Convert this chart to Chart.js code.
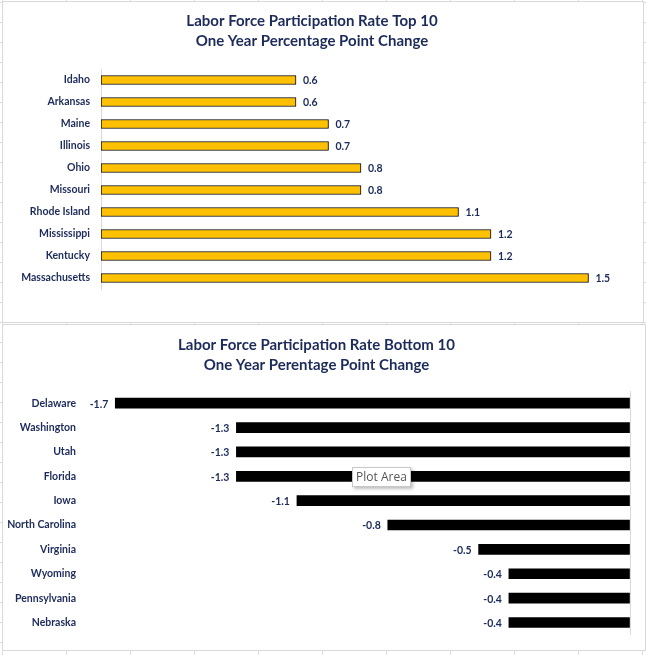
<!DOCTYPE html>
<html>
<head>
<meta charset="utf-8">
<script src="https://cdn.jsdelivr.net/npm/chart.js@4"></script>
<style>
  body {
    margin: 0;
    width: 646px;
    height: 655px;
    position: relative;
    overflow: hidden;
    background-color: #fff;
    background-image:
      linear-gradient(to right, #dcdcdc 1px, transparent 1px),
      linear-gradient(to bottom, #dcdcdc 1px, transparent 1px);
    background-size: 64px 20px;
    background-position: 2px 2px;
  }
  .panel {
    position: absolute;
    background: #fff;
    border: 1px solid #d9d9d9;
  }
  #topPanel { left: 2px; top: 1px; width: 640px; height: 320px; }
  #bottomPanel { left: 2px; top: 324px; width: 642px; height: 325px; }
  canvas { display: block; }
  .hint {
    position: absolute;
    left: 352px;
    top: 467px;
    width: 57px;
    height: 18px;
    background: #fff;
    border: 1px solid #c8c8c8;
    box-shadow: 2px 2px 3px rgba(0,0,0,0.25);
    font: 12px "Open Sans", sans-serif;
    color: #555;
    line-height: 18px;
    text-align: center;
  }
</style>
</head>
<body>
<div class="panel" id="topPanel"><canvas id="topChart" width="640" height="320"></canvas></div>
<div class="panel" id="bottomPanel"><canvas id="bottomChart" width="642" height="325"></canvas></div>
<div class="hint">Plot Area</div>
<script>
// data
const topStates = ['Idaho', 'Arkansas', 'Maine', 'Illinois', 'Ohio', 'Missouri',
  'Rhode Island', 'Mississippi', 'Kentucky', 'Massachusetts'];
const topChange = [0.6, 0.6, 0.7, 0.7, 0.8, 0.8, 1.1, 1.2, 1.2, 1.5];

const bottomStates = ['Delaware', 'Washington', 'Utah', 'Florida', 'Iowa',
  'North Carolina', 'Virginia', 'Wyoming', 'Pennsylvania', 'Nebraska'];
const bottomChange = [-1.7, -1.3, -1.3, -1.3, -1.1, -0.8, -0.5, -0.4, -0.4, -0.4];

const navy = '#1c2b5a';
const fontFamily = 'Lato, "Open Sans", sans-serif';

// value labels next to each bar
const valueLabels = {
  id: 'valueLabels',
  afterDatasetsDraw(chart) {
    const ctx = chart.ctx;
    const values = chart.data.datasets[0].data;
    ctx.save();
    ctx.font = 'bold 10.5px ' + fontFamily;
    ctx.fillStyle = navy;
    ctx.textBaseline = 'middle';
    chart.getDatasetMeta(0).data.forEach((bar, i) => {
      const v = values[i];
      if (v >= 0) {
        ctx.textAlign = 'left';
        ctx.fillText(v.toFixed(1), bar.x + 7, bar.y + 1);
      } else {
        ctx.textAlign = 'right';
        ctx.fillText(v.toFixed(1), bar.x - 7, bar.y + 1);
      }
    });
    ctx.restore();
  }
};

function titleOpts(lines, top, bottom) {
  return {
    display: true,
    text: lines,
    color: navy,
    font: { family: fontFamily, size: 15, weight: 'bold', lineHeight: 20 / 15 },
    padding: { top: top, bottom: bottom }
  };
}

const tickFont = { family: fontFamily, size: 10.5, weight: 'bold' };

new Chart(document.getElementById('topChart'), {
  type: 'bar',
  data: {
    labels: topStates,
    datasets: [{
      data: topChange,
      backgroundColor: '#FFC000',
      borderColor: '#000',
      borderWidth: 1,
      borderSkipped: false,
      barThickness: 9
    }]
  },
  options: {
    indexAxis: 'y',
    responsive: false,
    animation: false,
    layout: { padding: { left: 0, right: 22, top: 0, bottom: 33 } },
    plugins: {
      legend: { display: false },
      tooltip: { enabled: false },
      title: titleOpts(['Labor Force Participation Rate Top 10', 'One Year Percentage Point Change'], 9, 18)
    },
    scales: {
      x: { display: false, min: 0, max: 1.6 },
      y: {
        afterFit: s => { s.width = 98; },
        grid: { display: false, drawTicks: false },
        border: { display: true, color: '#d9d9d9' },
        ticks: { color: navy, padding: 11, font: tickFont }
      }
    }
  },
  plugins: [valueLabels]
});

new Chart(document.getElementById('bottomChart'), {
  type: 'bar',
  data: {
    labels: bottomStates,
    datasets: [{
      data: bottomChange,
      backgroundColor: '#000',
      borderWidth: 0,
      barThickness: 10
    }]
  },
  options: {
    indexAxis: 'y',
    responsive: false,
    animation: false,
    layout: { padding: { left: 0, right: 15, top: 0, bottom: 15 } },
    plugins: {
      legend: { display: false },
      tooltip: { enabled: false },
      title: titleOpts(['Labor Force Participation Rate Bottom 10', 'One Year Perentage Point Change'], 10, 16)
    },
    scales: {
      x: {
        min: -1.8,
        max: 0,
        ticks: { display: false, stepSize: 0.2 },
        border: { display: false },
        grid: {
          drawTicks: false,
          color: c => (c.tick && c.tick.value === 0 ? '#d9d9d9' : 'transparent')
        }
      },
      y: {
        afterFit: s => { s.width = 82; },
        grid: { display: false, drawTicks: false },
        border: { display: false },
        ticks: { color: navy, padding: 9, font: tickFont }
      }
    }
  },
  plugins: [valueLabels]
});
</script>
</body>
</html>
